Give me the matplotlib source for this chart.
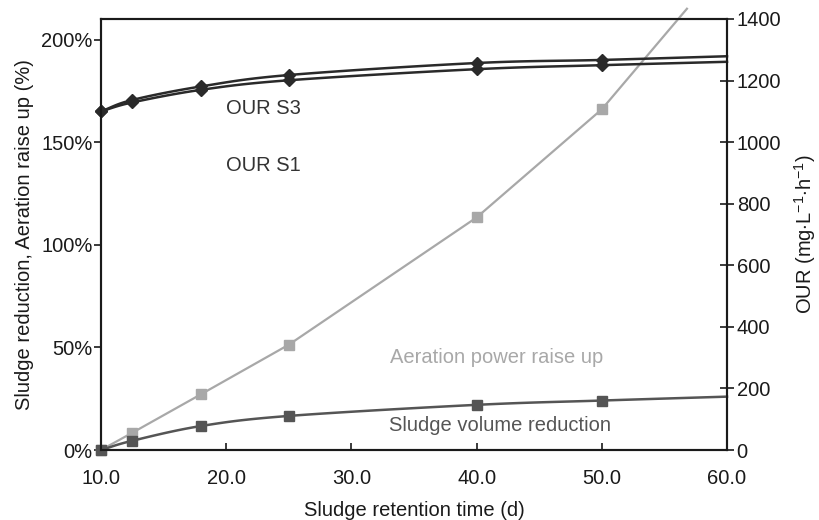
import numpy as np
import matplotlib
matplotlib.use("Agg")
import matplotlib.pyplot as plt
from matplotlib.ticker import FuncFormatter

plt.rcParams['font.family'] = ['Liberation Sans', 'DejaVu Sans']
plt.rcParams['mathtext.fontset'] = 'custom'
plt.rcParams['mathtext.rm'] = 'Liberation Sans'
plt.rcParams['mathtext.it'] = 'Liberation Sans:italic'
plt.rcParams['mathtext.bf'] = 'Liberation Sans:bold'

# Data
srt = [10, 12.5, 18, 25, 40, 50]
our_s3 = [1100, 1137, 1181, 1218, 1257, 1267]
our_s1 = [1100, 1129, 1170, 1201, 1237, 1250]
our_end_x = 60
our_s3_end = 1279
our_s1_end = 1261
aeration = [0.0, 0.084, 0.272, 0.513, 1.133, 1.66]
aeration_end_x = 56.8
aeration_end = 2.15
sludge_red = [0.0, 0.045, 0.117, 0.166, 0.22, 0.241]
sludge_end_x = 60
sludge_end = 0.26

x_ticks = [10, 20, 30, 40, 50, 60]
left_ticks = [0, 0.5, 1.0, 1.5, 2.0]
right_ticks = [0, 200, 400, 600, 800, 1000, 1200, 1400]


def smooth(x, y, n=20):
    x = np.asarray(x, float); y = np.asarray(y, float)
    px = np.concatenate([[2*x[0]-x[1]], x, [2*x[-1]-x[-2]]])
    py = np.concatenate([[2*y[0]-y[1]], y, [2*y[-1]-y[-2]]])
    xs, ys = [], []
    t = np.linspace(0, 1, n, endpoint=False)
    for i in range(1, len(px)-2):
        for arr, out in ((px, xs), (py, ys)):
            p0, p1, p2, p3 = arr[i-1], arr[i], arr[i+1], arr[i+2]
            out.extend(0.5*((2*p1) + (-p0+p2)*t + (2*p0-5*p1+4*p2-p3)*t**2 + (-p0+3*p1-3*p2+p3)*t**3))
    xs.append(x[-1]); ys.append(y[-1])
    return np.array(xs), np.array(ys)


fig = plt.figure(figsize=(8.19, 5.2), dpi=100)
ax = fig.add_axes([101/819, 1-450/520, 626/819, 431/520])
ax2 = ax.twinx()

spc = '#1a1a1a'
fs = 14.5

# Left axis series
c_aer = '#a8a8a8'
c_sl = '#555555'
ax.plot(srt + [aeration_end_x], aeration + [aeration_end], color=c_aer, lw=1.6,
        marker='s', ms=6.5, markevery=list(range(len(srt))), clip_on=False, zorder=3)
sx, sy = smooth(srt + [sludge_end_x], sludge_red + [sludge_end])
ax.plot(sx, sy, color=c_sl, lw=1.8, clip_on=False, zorder=3)
ax.plot(srt, sludge_red, ls='none', color=c_sl, marker='s', ms=7, clip_on=False, zorder=4)

# Right axis series
c_our = '#2a2a2a'
for vals, end in ((our_s3, our_s3_end), (our_s1, our_s1_end)):
    ox, oy = smooth(srt + [our_end_x], vals + [end])
    ax2.plot(ox, oy, color=c_our, lw=1.8, clip_on=False)
    ax2.plot(srt, vals, ls='none', color=c_our, marker='D', ms=6.5, clip_on=False)

ax.set_xlim(10, 60)
ax.set_ylim(0, 2.1)
ax2.set_ylim(0, 1400)

ax.set_xticks(x_ticks)
ax.xaxis.set_major_formatter(FuncFormatter(lambda v, p: f"{v:.1f}"))
ax.set_yticks(left_ticks)
ax.yaxis.set_major_formatter(FuncFormatter(lambda v, p: f"{v*100:.0f}%"))
ax2.set_yticks(right_ticks)

ax.tick_params(axis='x', direction='in', length=5, width=1.2, colors=spc, labelsize=fs, pad=14)
ax.tick_params(axis='y', direction='out', length=5, width=1.2, colors=spc, labelsize=fs, pad=1)
ax2.tick_params(axis='y', direction='inout', length=10, width=1.2, colors=spc, labelsize=fs, pad=2)

for a in (ax, ax2):
    for s in a.spines.values():
        s.set_color(spc)
        s.set_linewidth(1.5)

ax.set_xlabel("Sludge retention time (d)", fontsize=fs, color=spc, labelpad=9)
ax.set_ylabel("Sludge reduction, Aeration raise up (%)", fontsize=fs, color=spc, labelpad=5)
ax2.set_ylabel(r"OUR (mg$\cdot$L$^{-1}$$\cdot$h$^{-1}$)", fontsize=fs, color=spc, labelpad=8)

ax.text(23.0, 1.665, "OUR S3", fontsize=fs, color='#333333', ha='center', va='center')
ax.text(23.0, 1.385, "OUR S1", fontsize=fs, color='#333333', ha='center', va='center')
ax.text(41.6, 0.45, "Aeration power raise up", fontsize=fs, color=c_aer, ha='center', va='center')
ax.text(41.9, 0.118, "Sludge volume reduction", fontsize=fs, color=c_sl, ha='center', va='center')

fig.savefig("out.png", dpi=100)
